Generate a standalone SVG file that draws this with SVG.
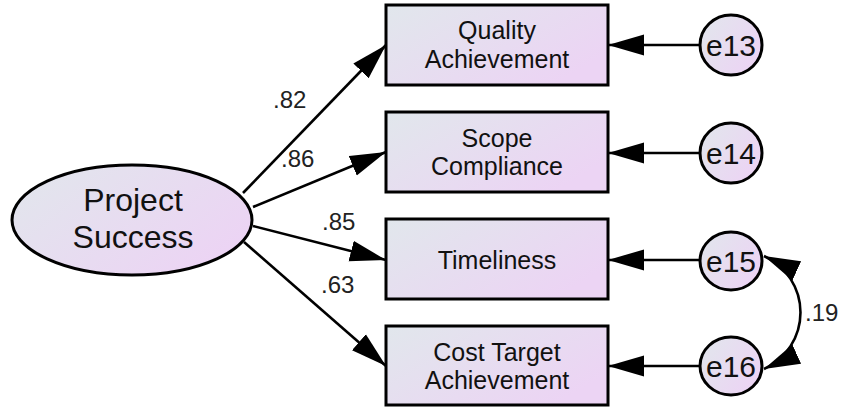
<svg xmlns="http://www.w3.org/2000/svg" width="843" height="408" viewBox="0 0 843 408">
<defs>
<linearGradient id="g" x1="0" y1="0" x2="1" y2="0.6">
<stop offset="0" stop-color="#e1e7ec"/>
<stop offset="1" stop-color="#ecd4f4"/>
</linearGradient>
<marker id="ah" markerUnits="userSpaceOnUse" markerWidth="36" markerHeight="22" viewBox="0 0 34 20" refX="34" refY="10" orient="auto-start-reverse">
<path d="M0,0 L34,10 L0,20 z" fill="#000"/>
</marker>
</defs>
<style>
.node{fill:url(#g);stroke:#000;stroke-width:3}
.t{font-family:"Liberation Sans",Arial,sans-serif;font-size:25px;fill:#111;text-anchor:middle}
.big{font-size:32px}
.e{font-size:30px}
.lbl{font-family:"Liberation Sans",Arial,sans-serif;font-size:24px;fill:#222}
.c{stroke:#000;stroke-width:2.6;fill:none;marker-end:url(#ah)}
</style>
<g id="connectors">
<line class="c" x1="243" y1="193" x2="386" y2="45"/>
<line class="c" x1="253" y1="207" x2="386" y2="152"/>
<line class="c" x1="253" y1="226" x2="386" y2="260"/>
<line class="c" x1="244" y1="242" x2="386" y2="366"/>
<line class="c" x1="700" y1="45" x2="608" y2="45"/>
<line class="c" x1="700" y1="153" x2="608" y2="153"/>
<line class="c" x1="700" y1="260" x2="608" y2="260"/>
<line class="c" x1="700" y1="366" x2="608" y2="366"/>
<path class="c" d="M764,256 A62,62 0 0 1 764,369" style="marker-start:url(#ah)"/>
<text class="lbl" x="273" y="108">.82</text>
<text class="lbl" x="281" y="167">.86</text>
<text class="lbl" x="322" y="230">.85</text>
<text class="lbl" x="321" y="293">.63</text>
<text class="lbl" x="805" y="321">.19</text>
</g>
<g id="project_success">
<ellipse class="node" cx="132" cy="220" rx="120" ry="55"/>
<text class="t big" x="133" y="211">Project</text>
<text class="t big" x="133" y="248">Success</text>
</g>
<g id="quality">
<rect class="node" x="386" y="5" width="222" height="80"/>
<text class="t" x="497" y="39">Quality</text>
<text class="t" x="497" y="68">Achievement</text>
</g>
<g id="scope">
<rect class="node" x="386" y="112" width="222" height="80"/>
<text class="t" x="497" y="147">Scope</text>
<text class="t" x="497" y="175">Compliance</text>
</g>
<g id="timeliness">
<rect class="node" x="386" y="219" width="222" height="80"/>
<text class="t" x="497" y="269">Timeliness</text>
</g>
<g id="cost">
<rect class="node" x="386" y="326" width="222" height="79"/>
<text class="t" x="497" y="361">Cost Target</text>
<text class="t" x="497" y="389">Achievement</text>
</g>
<g id="e13">
<ellipse class="node" cx="731" cy="45" rx="31" ry="30"/>
<text class="t e" x="731" y="56">e13</text>
</g>
<g id="e14">
<ellipse class="node" cx="731" cy="153" rx="31" ry="30"/>
<text class="t e" x="731" y="164">e14</text>
</g>
<g id="e15">
<ellipse class="node" cx="731" cy="261" rx="31" ry="29"/>
<text class="t e" x="731" y="272">e15</text>
</g>
<g id="e16">
<ellipse class="node" cx="731" cy="366" rx="31" ry="29"/>
<text class="t e" x="731" y="377">e16</text>
</g>
</svg>
